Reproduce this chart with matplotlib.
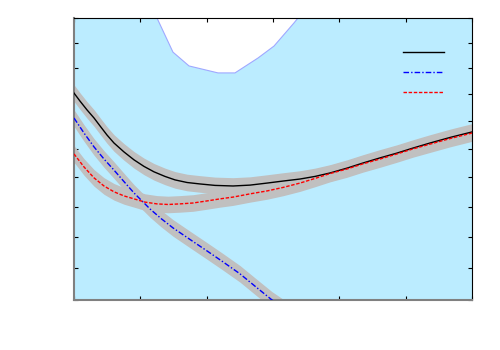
import matplotlib
matplotlib.use('Agg')
import matplotlib.pyplot as plt
from matplotlib.ticker import NullLocator
import numpy as np

# curve data (x linear, y on log scale 30..40)
black_x = [0, 0.090, 0.196, 0.302, 0.392, 0.497, 0.603, 0.754, 0.905, 1.055, 1.206, 1.372, 1.523,
           1.704, 1.899, 2.126, 2.397, 2.653, 2.910, 3.151, 3.407, 3.633, 3.859, 4.116, 4.357,
           4.613, 4.869, 5.111, 5.367, 5.668, 6.0]
black_y = [37.05, 36.75, 36.42, 36.12, 35.83, 35.50, 35.21, 34.89, 34.61, 34.38, 34.19, 34.03, 33.91,
           33.82, 33.77, 33.72, 33.70, 33.73, 33.80, 33.87, 33.94, 34.03, 34.15, 34.32, 34.50,
           34.68, 34.85, 35.03, 35.21, 35.41, 35.61]

red_x = [0, 0.151, 0.302, 0.452, 0.603, 0.754, 0.905, 1.070, 1.251, 1.417, 1.598, 1.794, 2.005,
         2.201, 2.397, 2.653, 2.910, 3.151, 3.407, 3.633, 3.859, 4.116, 4.357, 4.613, 4.869,
         5.111, 5.367, 5.668, 6.0]
red_y = [34.82, 34.36, 33.98, 33.70, 33.50, 33.36, 33.26, 33.15, 33.09, 33.07, 33.09, 33.12, 33.19,
         33.26, 33.32, 33.43, 33.53, 33.65, 33.80, 33.96, 34.13, 34.29, 34.47, 34.64, 34.82,
         35.00, 35.17, 35.37, 35.57]

blue_x = [0, 0.151, 0.302, 0.452, 0.603, 0.754, 0.905, 1.025, 1.146, 1.312, 1.492, 1.749, 2.005,
          2.246, 2.503, 2.744, 2.985, 3.256]
blue_y = [36.12, 35.57, 35.07, 34.64, 34.25, 33.85, 33.46, 33.19, 32.92, 32.60, 32.29, 31.91, 31.54,
          31.19, 30.81, 30.40, 30.00, 29.63]

# white region cut out of the shaded background
hole_x = [1.251, 1.492, 1.734, 2.171, 2.427, 2.774, 3.015, 3.317, 3.377]
hole_y = [40.0, 38.63, 38.09, 37.82, 37.82, 38.40, 38.87, 39.80, 40.0]

x_ticks = [0, 1, 2, 3, 4, 5, 6]
y_ticks = list(range(30, 41))

band = 1.0085   # half width of the grey band (multiplicative, log axis)

fig = plt.figure(figsize=(5, 3.5), dpi=100)
ax = fig.add_axes([0.148, 0.1429, 0.796, 0.8057])
ax.set_facecolor('#bbecff')

ax.fill(hole_x, hole_y, facecolor='white', edgecolor='#a0a8ff', linewidth=0.8, zorder=1)

for xs, ys in [(black_x, black_y), (red_x, red_y), (blue_x, blue_y)]:
    ys = np.array(ys)
    ax.fill_between(xs, ys / band, ys * band, color='#c0c0c0', linewidth=0, zorder=2)

ax.plot(black_x, black_y, color='black', lw=1.0, zorder=3)
ax.plot(blue_x, blue_y, color='blue', lw=1.0, dashes=(4, 1.5, 1, 1.5), zorder=3)
ax.plot(red_x, red_y, color='red', lw=1.0, dashes=(2.5, 1.2), zorder=4)

ax.set_yscale('log')
ax.set_xlim(0, 6)
ax.set_ylim(30, 40)
ax.set_xticks(x_ticks)
ax.set_yticks(y_ticks)
ax.yaxis.set_minor_locator(NullLocator())
ax.tick_params(which='both', direction='in', top=True, right=True, length=3,
               labelleft=False, labelbottom=False)

ax.spines['left'].set_color('#808080')
ax.spines['bottom'].set_color('#808080')
ax.spines['left'].set_linewidth(1.5)
ax.spines['bottom'].set_linewidth(1.5)

h1, = ax.plot([], [], color='black', lw=1.0)
h2, = ax.plot([], [], color='blue', lw=1.0, dashes=(4, 1.5, 1, 1.5))
h3, = ax.plot([], [], color='red', lw=1.0, dashes=(2.5, 1.2))
ax.legend([h1, h2, h3], ['', '', ''], loc='upper right', frameon=False,
          handlelength=2.95, handletextpad=0, labelspacing=0.43,
          bbox_to_anchor=(0.96, 0.946))

fig.savefig('out.png', dpi=100)
